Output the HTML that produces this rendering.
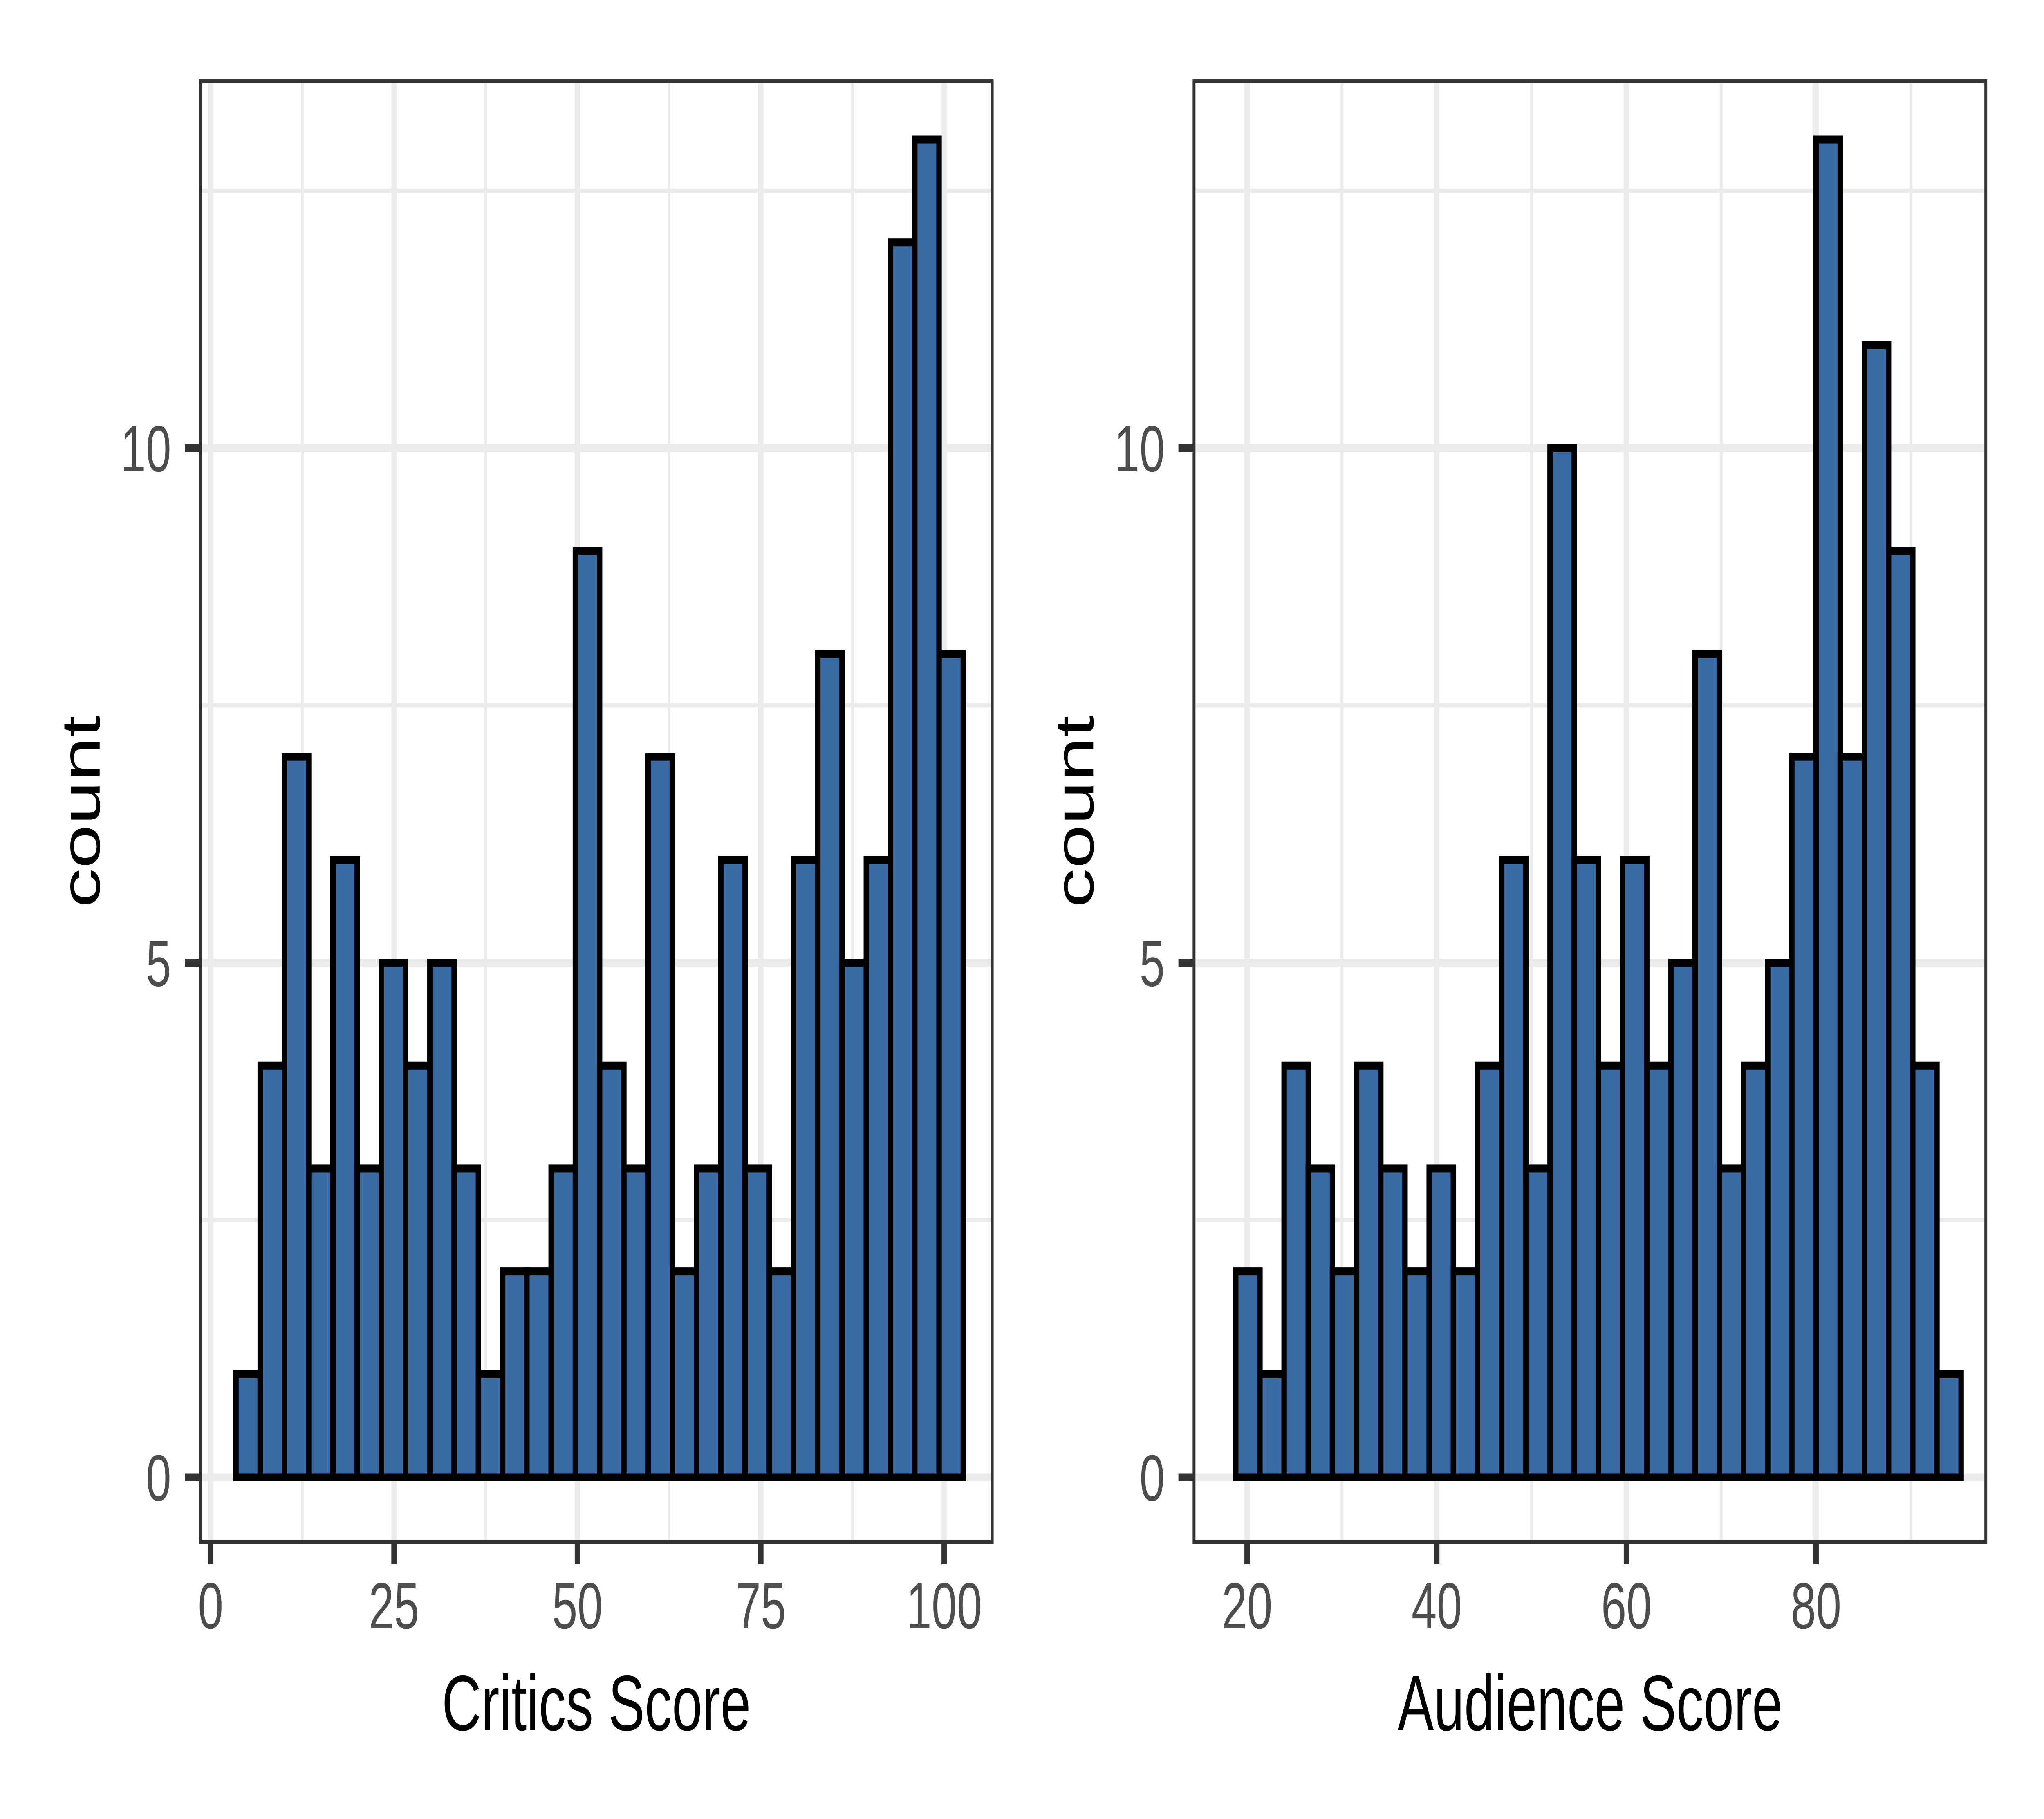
<!DOCTYPE html>
<html><head><meta charset="utf-8"><style>
html,body{margin:0;padding:0;background:#fff;overflow:hidden;width:100%;height:100%;}
svg{display:block;width:100vw;height:100vh;}
text{font-family:"Liberation Sans",Arial,sans-serif;}
</style></head><body>
<svg id="chart" viewBox="0 0 7200 4449" preserveAspectRatio="none" xmlns="http://www.w3.org/2000/svg">
<rect width="7200" height="4449" fill="#fff"/>
</svg>
<script>
const criticsCounts = [1,4,7,3,6,3,5,4,5,3,1,2,2,3,9,4,3,7,2,3,6,3,2,6,8,5,6,12,13,8];
const audienceCounts = [2,1,4,3,2,4,3,2,3,2,4,6,3,10,6,4,6,4,5,8,3,4,5,7,13,7,11,9,4,1];
const criticsBinStart = 3.45, criticsBinWidth = 3.305;
const audienceBinStart = 18.8, audienceBinWidth = 2.55;
const criticsXTicks = [0,25,50,75,100];
const criticsXMinor = [12.5,37.5,62.5,87.5];
const audienceXTicks = [20,40,60,80];
const audienceXMinor = [30,50,70,90];
const yTicks = [0,5,10];
const yMinor = [2.5,7.5,12.5];

const svgRoot = document.getElementById('chart');
const NS = 'http://www.w3.org/2000/svg';
function mk(tag, attrs, parent){
  const e = document.createElementNS(NS, tag);
  for (const k in attrs) e.setAttribute(k, attrs[k]);
  (parent||svgRoot).appendChild(e);
  return e;
}
const panelTop = 199, panelBottom = 3771;
const yZeroPx = 3613, yPer = (3613-341)/13;
const yScale = v => yZeroPx - v*yPer;

function panel(cfg){
  const g = mk('g', {});
  
  
  const L = cfg.left, R = cfg.right;
  const xs = v => cfg.x0px + (v - cfg.x0val)*cfg.xPer;
  cfg.minor.forEach(v=>{
    const l = mk('line',{x1:xs(v),x2:xs(v),y1:panelTop,y2:panelBottom,stroke:'#EBEBEB','stroke-width':10},g);
    
    
  });
  yMinor.forEach(v=>{
    const l = mk('line',{x1:L,x2:R,y1:yScale(v),y2:yScale(v),stroke:'#EBEBEB','stroke-width':10},g);
    
    
  });
  cfg.ticks.forEach(v=>{
    const l = mk('line',{x1:xs(v),x2:xs(v),y1:panelTop,y2:panelBottom,stroke:'#EBEBEB','stroke-width':19},g);
    
    
  });
  yTicks.forEach(v=>{
    const l = mk('line',{x1:L,x2:R,y1:yScale(v),y2:yScale(v),stroke:'#EBEBEB','stroke-width':19},g);
    
    
  });
  cfg.counts.forEach((c,i)=>{
    const xa = xs(cfg.binStart + i*cfg.binWidth), xb = xs(cfg.binStart + (i+1)*cfg.binWidth);
    const r = mk('rect',{x:xa,y:yScale(c),width:xb-xa,height:yScale(0)-yScale(c),fill:'#3A6BA5',stroke:'#000','stroke-width':19},g);
    
    
  });
  const b = mk('rect',{x:L,y:panelTop,width:R-L,height:panelBottom-panelTop,fill:'none',stroke:'#333','stroke-width':10},g);
  
  
  cfg.ticks.forEach(v=>{
    const t = mk('line',{x1:xs(v),x2:xs(v),y1:panelBottom,y2:panelBottom+55,stroke:'#333','stroke-width':19},g);
    
    
    const tx = mk('text',{x:xs(v),y:3983,'font-size':160,fill:'#4D4D4D','text-anchor':'middle'},g);
    tx.textContent = v;
    
    
  });
  yTicks.forEach(v=>{
    const t = mk('line',{x1:L-55,x2:L,y1:yScale(v),y2:yScale(v),stroke:'#333','stroke-width':19},g);
    
    
    const tx = mk('text',{x:L-103,y:yScale(v)+57,'font-size':160,fill:'#4D4D4D','text-anchor':'end'},g);
    tx.textContent = v;
    
    
  });
  const xt = mk('text',{x:(L+R)/2,y:4232,'font-size':192,fill:'#000','text-anchor':'middle'},g);
  xt.textContent = cfg.title;
  
  
  const cy = (panelTop+panelBottom)/2;
  const yt = mk('text',{x:0,y:0,'font-size':192,fill:'#000','text-anchor':'middle',transform:'translate('+(L-355)+','+cy+') rotate(-90)'},g);
  yt.textContent = 'count';
  
  
}
panel({name:'critics-panel',left:706,right:3495,x0val:0,x0px:742,xPer:(1388-742)/25,
  ticks:criticsXTicks,minor:criticsXMinor,counts:criticsCounts,binStart:criticsBinStart,binWidth:criticsBinWidth,title:'Critics Score'});
panel({name:'audience-panel',left:4206,right:6995,x0val:20,x0px:4393,xPer:33.4,
  ticks:audienceXTicks,minor:audienceXMinor,counts:audienceCounts,binStart:audienceBinStart,binWidth:audienceBinWidth,title:'Audience Score'});
</script>
</body></html>
